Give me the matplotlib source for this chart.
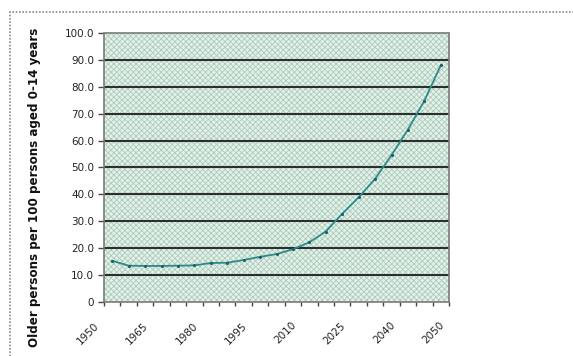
import numpy as np
import matplotlib
matplotlib.use("Agg")
import matplotlib.pyplot as plt
from matplotlib.patches import Rectangle
from matplotlib.transforms import ScaledTranslation

years = [1950, 1955, 1960, 1965, 1970, 1975, 1980, 1985, 1990, 1995, 2000,
         2005, 2010, 2015, 2020, 2025, 2030, 2035, 2040, 2045, 2050]
older_per_100 = [15.3, 13.5, 13.4, 13.4, 13.5, 13.6, 14.5, 14.6, 15.6, 16.8, 17.8,
                 19.6, 22.2, 26.2, 32.8, 38.9, 45.8, 54.6, 64.1, 74.8, 88.0]
x_labels = ["1950", "1965", "1980", "1995", "2010", "2025", "2040", "2050"]
y_ticks = [0, 10, 20, 30, 40, 50, 60, 70, 80, 90, 100]

plt.rcParams["font.family"] = ["DejaVu Sans"]
plt.rcParams["hatch.linewidth"] = 0.6

fig = plt.figure(figsize=(5.73, 3.56), dpi=100)
ax = fig.add_axes([0.1815, 0.1517, 0.6021, 0.7556])

idx = np.arange(len(years))
ax.set_xlim(-0.5, len(years) - 0.5)
ax.set_ylim(0, 100)

# pattern fill of the plot area
ax.set_facecolor("#d9f7e7")
ax.add_patch(Rectangle((0, 0), 1, 1, transform=ax.transAxes, facecolor="none",
                       edgecolor="#bcc2bf", hatch="xxxxxx", linewidth=0, zorder=0))

for v in y_ticks[1:-1]:
    ax.axhline(v, color="#2e2e2e", linewidth=1.5, zorder=1)

ax.plot(idx, older_per_100, color="#2b8a8a", linewidth=1.3, zorder=3,
        marker=".", markersize=2.5, markerfacecolor="#1f5f6a", markeredgecolor="#1f5f6a")

for s in ax.spines.values():
    s.set_color("#7a7a7a")
    s.set_linewidth(1.2)
    s.set_linestyle((0, (1, 1)))

ax.set_yticks(y_ticks)
ax.set_yticklabels(["0"] + [f"{v:.1f}" for v in y_ticks[1:]])
ax.tick_params(axis="y", length=4, width=1, color="#444", pad=3,
               labelsize=7.5, labelcolor="#222")

# labels sit on every third category boundary
label_pos = np.arange(-0.5, len(years), 3)
ax.set_xticks(label_pos)
ax.set_xticklabels(x_labels, rotation=45, ha="right", va="top",
                   rotation_mode="anchor")
ax.set_xticks(np.arange(-0.5, len(years)), minor=True)
ax.tick_params(axis="x", which="both", length=3, width=1, color="#444",
               labelsize=7.5, labelcolor="#222", pad=8)
shift = ScaledTranslation(-10 / 100, -3 / 100, fig.dpi_scale_trans)
for lab in ax.get_xticklabels():
    lab.set_transform(lab.get_transform() + shift)

ax.set_ylabel("Older persons per 100 persons aged 0-14 years", fontsize=8.6,
              fontweight="bold", color="#111")
ax.yaxis.set_label_coords(-0.182, 0.428)

# dotted chart border
fig.add_artist(Rectangle((10 / 573, -0.1), 1.2, 1.1 - 12 / 356,
                         transform=fig.transFigure, fill=False,
                         edgecolor="#8a8a8a", linewidth=1.2,
                         linestyle=(0, (1, 1)), clip_on=False))

fig.savefig("out.png", dpi=100)
